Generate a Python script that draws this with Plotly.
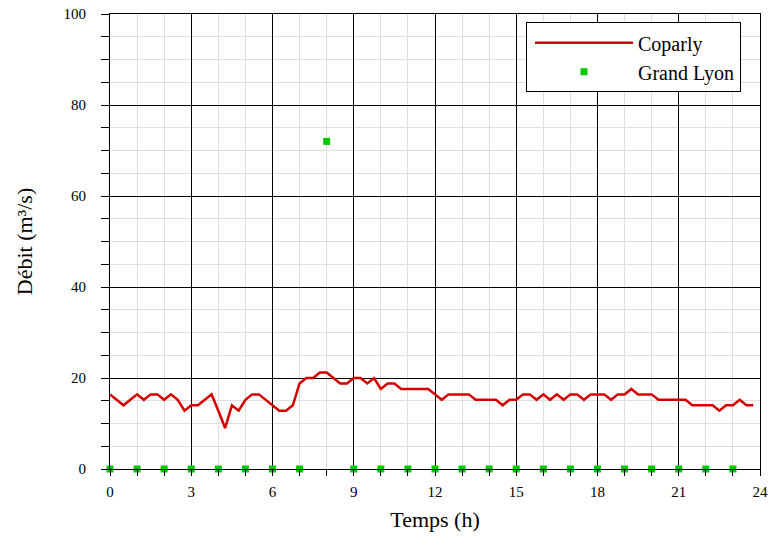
import numpy as np
import plotly.graph_objects as go

# Coparly flow, sampled every 15 minutes (m3/s)
t_coparly = [i * 0.25 for i in range(96)]
q_coparly = [
    16.4, 15.2, 14.0, 15.2, 16.4, 15.2, 16.4, 16.4,   # 0 - 1.75
    15.2, 16.4, 15.2, 12.8, 14.0, 14.0, 15.2, 16.4,   # 2 - 3.75
    12.8, 9.0, 14.0, 12.8, 15.2, 16.4, 16.4, 15.2,    # 4 - 5.75
    14.0, 12.8, 12.8, 14.0, 18.8, 20.0, 20.0, 21.2,   # 6 - 7.75
    21.2, 20.0, 18.8, 18.8, 20.0, 20.0, 18.8, 20.0,   # 8 - 9.75
    17.6, 18.8, 18.8, 17.6, 17.6, 17.6, 17.6, 17.6,   # 10 - 11.75
    16.4, 15.2, 16.4, 16.4, 16.4, 16.4, 15.2, 15.2,   # 12 - 13.75
    15.2, 15.2, 14.0, 15.2, 15.2, 16.4, 16.4, 15.2,   # 14 - 15.75
    16.4, 15.2, 16.4, 15.2, 16.4, 16.4, 15.2, 16.4,   # 16 - 17.75
    16.4, 16.4, 15.2, 16.4, 16.4, 17.6, 16.4, 16.4,   # 18 - 19.75
    16.4, 15.2, 15.2, 15.2, 15.2, 15.2, 14.0, 14.0,   # 20 - 21.75
    14.0, 14.0, 12.8, 14.0, 14.0, 15.2, 14.0, 14.0,   # 22 - 23.75
]

# Grand Lyon flow, hourly (m3/s)
t_lyon = list(range(24))
q_lyon = [0, 0, 0, 0, 0, 0, 0, 0, 72, 0, 0, 0,
          0, 0, 0, 0, 0, 0, 0, 0, 0, 0, 0, 0]

x_ticks = [0, 3, 6, 9, 12, 15, 18, 21, 24]
y_ticks = [0, 20, 40, 60, 80, 100]

SERIF = "Liberation Serif, Times New Roman, serif"
GRID_MINOR = "#dedede"

fig = go.Figure()
fig.add_trace(go.Scatter(
    x=t_coparly, y=q_coparly, mode="lines", name="Coparly",
    line=dict(color="#d40000", width=2.5),
))
fig.add_trace(go.Scatter(
    x=t_lyon, y=q_lyon, mode="markers", name="Grand Lyon",
    marker=dict(symbol="square", size=7, color="#00c800", line=dict(width=0)),
    cliponaxis=False,
))

fig.update_layout(
    width=769, height=537,
    margin=dict(l=110, r=9, t=14, b=68),
    paper_bgcolor="white", plot_bgcolor="white",
    font=dict(family=SERIF, size=15, color="black"),
    showlegend=True,
    legend=dict(
        x=0.640, y=0.982, xanchor="left", yanchor="top",
        bgcolor="white", bordercolor="black", borderwidth=1,
        font=dict(family=SERIF, size=20, color="black"),
        itemwidth=98, indentation=3, tracegroupgap=0,
    ),
)

fig.update_xaxes(
    range=[0, 24], tickvals=x_ticks, ticktext=[str(v) for v in x_ticks],
    automargin=False,
    showline=True, linecolor="black", linewidth=1, mirror=True,
    showgrid=True, gridcolor="black", gridwidth=1,
    ticks="outside", ticklen=6, tickcolor="black",
    minor=dict(dtick=1, showgrid=True, gridcolor=GRID_MINOR, gridwidth=1,
               ticks="outside", ticklen=6, tickcolor="black"),
    zeroline=False,
    ticklabelstandoff=3,
    title=dict(text="Temps (h)", font=dict(family=SERIF, size=22), standoff=12),
    tickfont=dict(family=SERIF, size=15),
)
fig.update_yaxes(
    range=[0, 100], tickvals=y_ticks, ticktext=[str(v) for v in y_ticks],
    automargin=False,
    showline=True, linecolor="black", linewidth=1, mirror=True,
    showgrid=True, gridcolor="black", gridwidth=1,
    ticks="outside", ticklen=8, tickcolor="black",
    minor=dict(dtick=5, showgrid=True, gridcolor=GRID_MINOR, gridwidth=1,
               ticks="outside", ticklen=8, tickcolor="black"),
    zeroline=False,
    ticklabelstandoff=12,
    title=dict(text="Débit (m³/s)", font=dict(family=SERIF, size=22), standoff=24),
    tickfont=dict(family=SERIF, size=15),
)

fig.write_html("out.html")
